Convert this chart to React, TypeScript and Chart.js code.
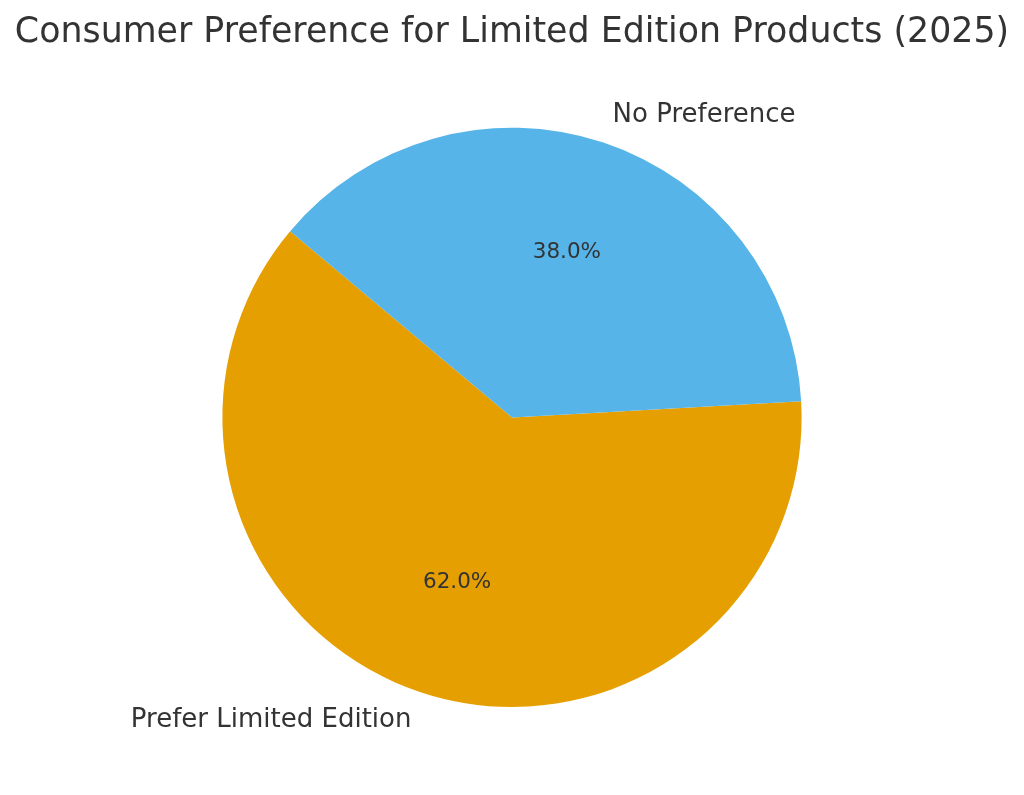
import React, { useEffect, useRef } from "react";
import { Chart, registerables } from "chart.js";

Chart.register(...registerables);

const TITLE = "Consumer Preference for Limited Edition Products (2025)";
const categories = ["Prefer Limited Edition", "No Preference"];
const shares = [62, 38];
const colors = ["#E69F00", "#56B4E9"];
const TEXT_COLOR = "#333333";
const FONT = "'DejaVu Sans', 'Noto Sans', sans-serif";

const pieLabels = {
  id: "pieLabels",
  afterDatasetsDraw(chart: any) {
    const ctx = chart.ctx;
    const meta = chart.getDatasetMeta(0);
    const data = chart.data.datasets[0].data as number[];
    const total = data.reduce((a, b) => a + b, 0);
    ctx.save();
    ctx.fillStyle = TEXT_COLOR;
    ctx.textBaseline = "middle";
    meta.data.forEach((arc: any, i: number) => {
      const { x, y, startAngle, endAngle, outerRadius } = arc.getProps(
        ["x", "y", "startAngle", "endAngle", "outerRadius"],
        true
      );
      const mid = (startAngle + endAngle) / 2;
      const c = Math.cos(mid);
      const s = Math.sin(mid);
      // outer category label
      ctx.font = `26px ${FONT}`;
      ctx.textAlign = c > 0 ? "left" : "right";
      ctx.fillText(
        chart.data.labels[i],
        x + c * outerRadius * 1.1,
        y + s * outerRadius * 1.1 + 0.5
      );
      // percentage
      ctx.font = `21.5px ${FONT}`;
      ctx.textAlign = "center";
      ctx.fillText(
        ((data[i] / total) * 100).toFixed(1) + "%",
        x + c * outerRadius * 0.6,
        y + s * outerRadius * 0.6
      );
    });
    ctx.restore();
  },
};

export default function App() {
  const ref = useRef<HTMLCanvasElement | null>(null);
  useEffect(() => {
    if (!ref.current) return;
    const chart = new Chart(ref.current, {
      type: "pie",
      data: {
        labels: categories,
        datasets: [
          {
            data: shares,
            backgroundColor: colors,
            borderWidth: 0,
          },
        ],
      },
      options: {
        responsive: false,
        animation: false,
        rotation: 86.8,
        layout: { padding: { top: 0, bottom: 88, left: 0, right: 0 } },
        plugins: {
          legend: { display: false },
          tooltip: { enabled: false },
          title: {
            display: true,
            text: TITLE,
            color: TEXT_COLOR,
            font: { family: FONT, size: 34.8, weight: "normal", lineHeight: 1.2 },
            padding: { top: 12, bottom: 74 },
          },
        },
      },
      plugins: [pieLabels],
    });
    return () => chart.destroy();
  }, []);
  return (
    <div style={{ position: "fixed", left: 0, top: 0, width: 1024, height: 795, background: "#fff" }}>
      <canvas ref={ref} width={1024} height={795} />
    </div>
  );
}
